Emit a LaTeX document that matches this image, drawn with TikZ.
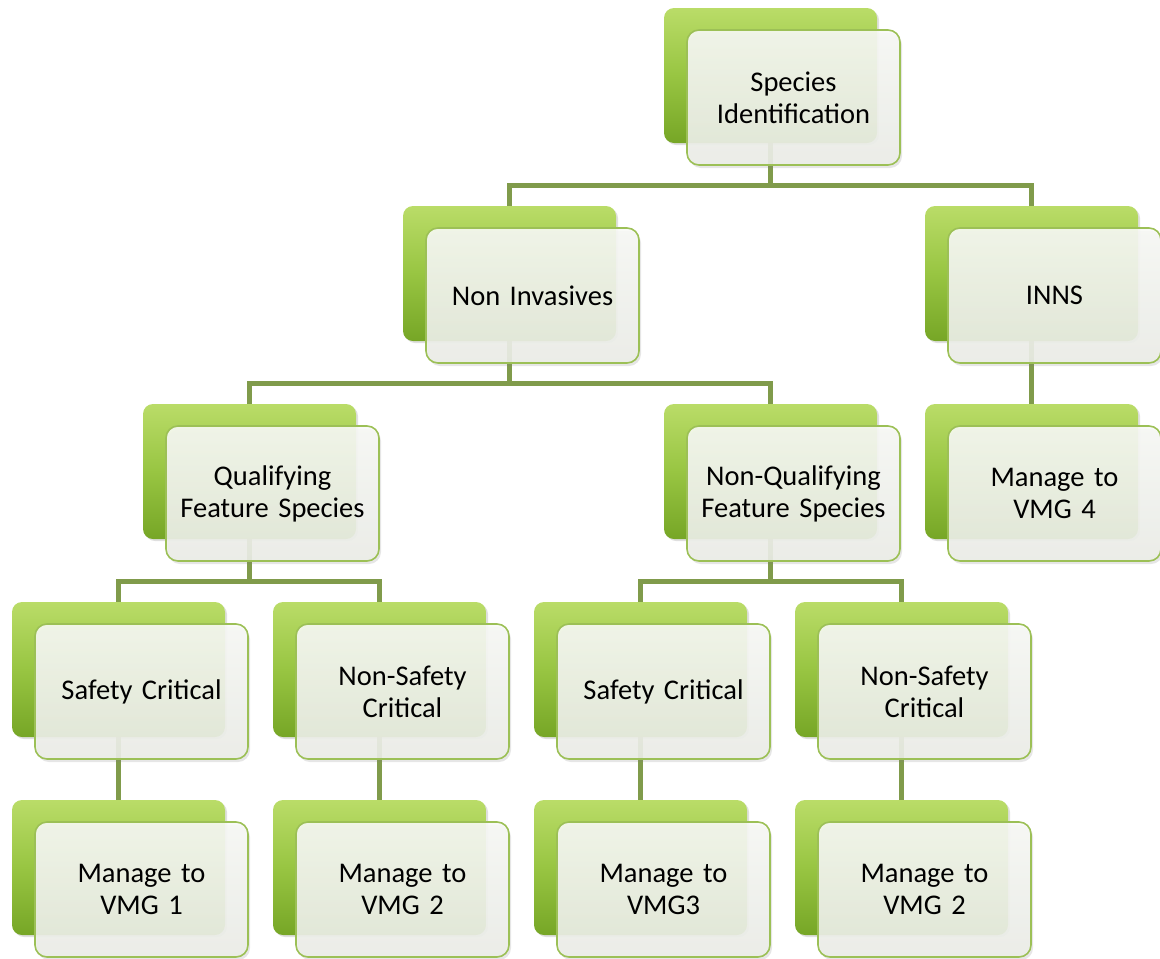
\documentclass[tikz,border=0pt]{standalone}
\usepackage{fontspec}
\setmainfont{Carlito}
\usetikzlibrary{backgrounds,shadows,calc}
\definecolor{conncol}{RGB}{128,155,75}
\definecolor{gtop}{RGB}{186,220,104}
\definecolor{gmid}{RGB}{152,197,66}
\definecolor{gbot}{RGB}{118,166,38}
\definecolor{wborder}{RGB}{156,192,86}
\definecolor{wtop}{RGB}{248,249,246}
\definecolor{wbot}{RGB}{236,238,232}
\tikzset{
  gbox/.style={rectangle, rounded corners=10pt, minimum width=213pt, minimum height=135pt,
    top color=gtop, bottom color=gbot, middle color=gmid, draw=none,
    drop shadow={opacity=0.25, shadow xshift=2pt, shadow yshift=-2pt}},
  wbox/.style={rectangle, rounded corners=12pt, minimum width=213pt, minimum height=135pt,
    top color=wtop, bottom color=wbot, fill opacity=0.9, text opacity=1,
    draw=wborder, line width=1.6pt, text width=200pt, align=center, inner sep=0pt,
    font=\fontsize{28.5}{32}\selectfont,
    drop shadow={opacity=0.2, shadow xshift=2pt, shadow yshift=-3pt}},
  conn/.style={draw=conncol, line width=5pt}
}
\newcommand{\smunit}[4]{%
  \node[gbox] (#1) at (#2+106.5,#3+67.5) {};
  \node[wbox] (#1W) at ([shift={(23,22)}]#1.center) {#4};
}
\begin{document}
\begin{tikzpicture}[x=1pt,y=-1pt]
\useasboundingbox (0,0) rectangle (1160,959);
\smunit{top}{664}{8}{Species\\Identification}
\smunit{ni}{403}{206}{Non Invasives}
\smunit{inns}{925}{206}{INNS}
\smunit{q}{143}{404}{Qualifying\\Feature Species}
\smunit{nq}{664}{404}{Non-Qualifying\\Feature Species}
\smunit{vfour}{925}{404}{Manage to\\VMG 4}
\smunit{sa}{12}{602}{Safety Critical}
\smunit{nsa}{273}{602}{Non-Safety\\Critical}
\smunit{sb}{534}{602}{Safety Critical}
\smunit{nsb}{795}{602}{Non-Safety\\Critical}
\smunit{va}{12}{800}{Manage to\\VMG 1}
\smunit{vb}{273}{800}{Manage to\\VMG 2}
\smunit{vc}{534}{800}{Manage to\\VMG3}
\smunit{vd}{795}{800}{Manage to\\VMG 2}
\begin{pgfonlayer}{background}
\foreach \p/\c in {top/ni,top/inns,ni/q,ni/nq,inns/vfour,q/sa,q/nsa,nq/sb,nq/nsb,sa/va,nsa/vb,sb/vc,nsb/vd}{
  \coordinate (m) at ($(\p.south |- \p W.south)!0.5!(\p.south |- \c.north)$);
  \draw[conn] (\p.south) -- (m) -| (\c.north);
}
\end{pgfonlayer}
\end{tikzpicture}
\end{document}
